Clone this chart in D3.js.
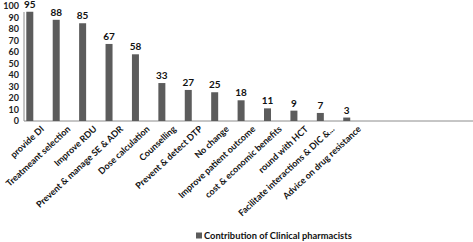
<!DOCTYPE html>
<html>
<head>
<meta charset="utf-8">
<script src="https://cdn.jsdelivr.net/npm/d3@7"></script>
<style>
  body { margin: 0; background: #fff; }
  text { font-family: Lato, "Open Sans", sans-serif; font-weight: bold; }
</style>
</head>
<body>
<div id="chart"></div>
<script>
const categories = ["provide DI", "Treatmeant selection", "Improve RDU", "Prevent & manage SE & ADR",
  "Dose calculation", "Counselling", "Prevent & detect DTP", "No change", "Improve patient outcome",
  "cost & economic benefits", "round with HCT", "Facilitate interactions & DIC &...", "Advice on drug resistance",
  "", " ", "  ", "   "];
const values = [95, 88, 85, 67, 58, 33, 27, 25, 18, 11, 9, 7, 3];
const yTicks = [0, 10, 20, 30, 40, 50, 60, 70, 80, 90, 100];
const seriesName = "Contribution of Clinical pharmacists";

const W = 473, H = 242;
const margin = {top: 6, right: 0, bottom: 121, left: 24};
const width = W - margin.left - margin.right,
      height = H - margin.top - margin.bottom;

const svg = d3.select("#chart").append("svg")
  .attr("width", W).attr("height", H)
  .append("g")
  .attr("transform", `translate(${margin.left},${margin.top})`);

const x = d3.scaleBand().domain(categories).range([0, width]);
const y = d3.scaleLinear().domain([0, 100]).range([height, 0]);

const barW = 7;
const barOff = 2.3;

// y axis
svg.append("line").attr("x1", 0).attr("x2", 0).attr("y1", y(100) + 6).attr("y2", y(0))
  .attr("stroke", "#8c8c8c");
svg.selectAll(".ytick").data(yTicks).enter().append("text")
  .attr("x", -5).attr("y", d => y(d)).attr("dy", "0.35em")
  .attr("text-anchor", "end").attr("font-size", "9px").attr("fill", "#222")
  .text(d => d);

// x axis
svg.append("line").attr("x1", 0).attr("x2", width).attr("y1", y(0)).attr("y2", y(0))
  .attr("stroke", "#8c8c8c");

const data = values.map((v, i) => ({cat: categories[i], value: v}));

svg.selectAll(".bar").data(data).enter().append("rect")
  .attr("x", d => x(d.cat) + barOff)
  .attr("width", barW)
  .attr("y", d => y(d.value))
  .attr("height", d => y(0) - y(d.value))
  .attr("fill", "#5c5c5c");

svg.selectAll(".vlab").data(data).enter().append("text")
  .attr("x", d => x(d.cat) + barOff + barW / 2)
  .attr("y", d => y(d.value) - 4)
  .attr("text-anchor", "middle").attr("font-size", "10px").attr("fill", "#111")
  .text(d => d.value);

// category labels
svg.selectAll(".xlab").data(categories.filter(c => c.trim() !== "")).enter().append("text")
  .attr("transform", d => `translate(${x(d) + x.bandwidth() / 2 + 3},${y(0) + 4}) rotate(-43)`)
  .attr("dy", "0.72em")
  .attr("text-anchor", "end").attr("font-size", "9px").attr("fill", "#111")
  .text(d => d);

// legend
const lg = svg.append("g").attr("transform", `translate(${196 - margin.left},${236 - margin.top})`);
lg.append("rect").attr("x", 0).attr("y", -3.5).attr("width", 6).attr("height", 6).attr("fill", "#5c5c5c");
lg.append("text").attr("x", 8).attr("y", 0).attr("dy", "0.35em")
  .attr("font-size", "9.3px").attr("fill", "#111").text(seriesName);
</script>
</body>
</html>
